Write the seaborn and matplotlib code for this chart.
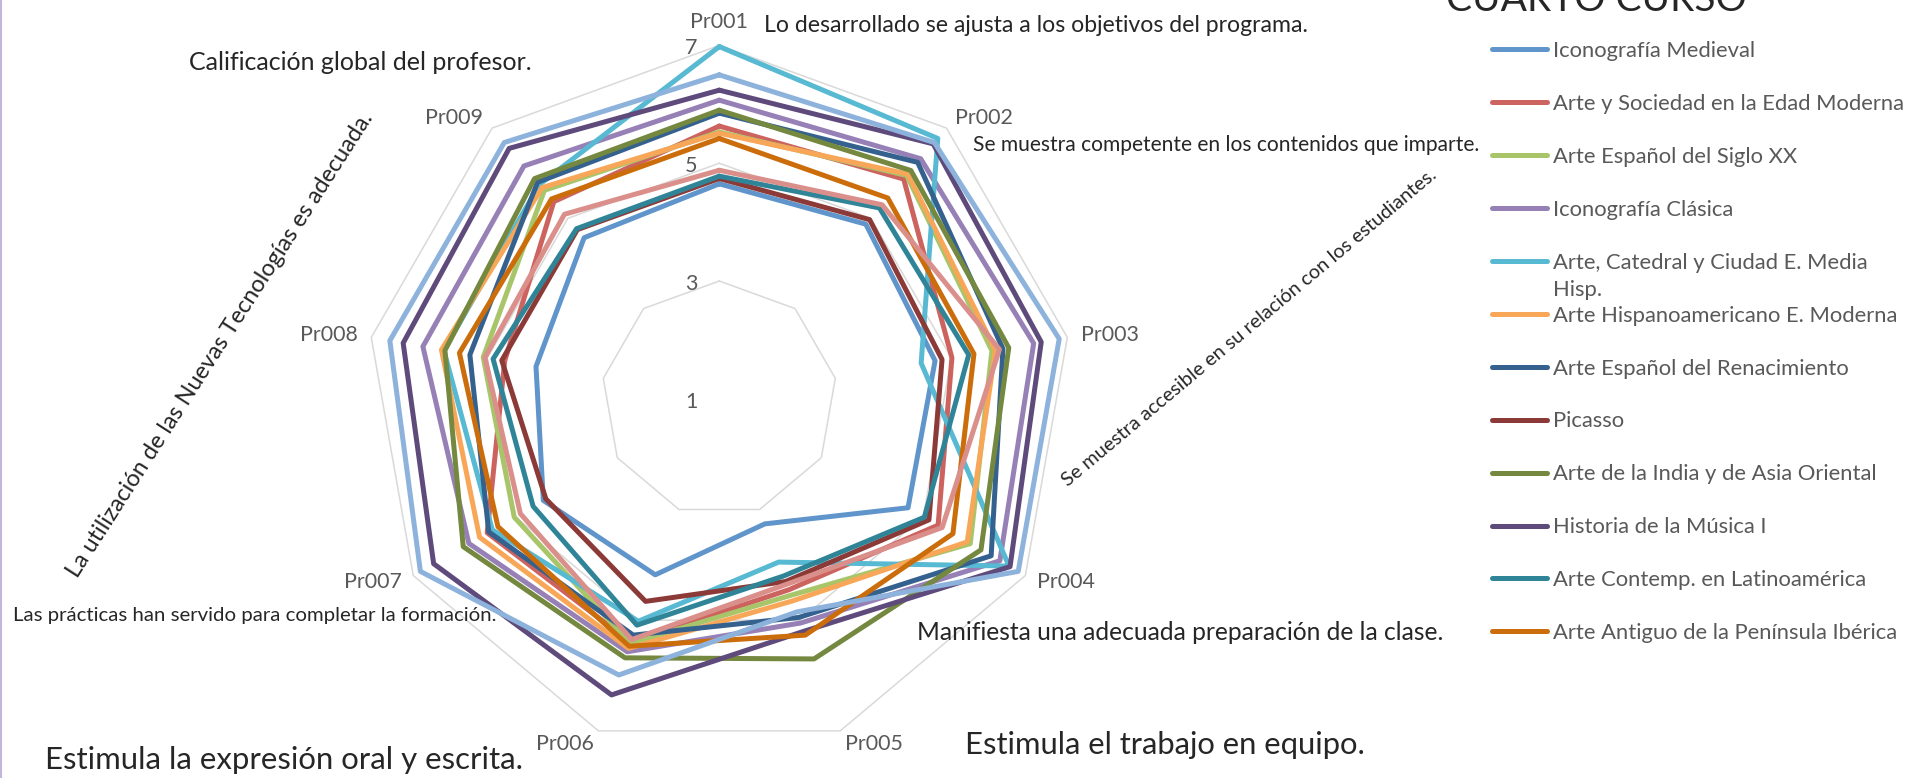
import numpy as np
import pandas as pd
import seaborn as sns
import matplotlib.pyplot as plt
from matplotlib import transforms
from matplotlib.lines import Line2D

# axes of the radar (one per survey question)
questions = ['Pr001', 'Pr002', 'Pr003', 'Pr004', 'Pr005', 'Pr006', 'Pr007', 'Pr008', 'Pr009']
ring_values = [3, 5, 7]
tick_labels = ['7', '5', '3', '1']
tick_values = [7, 5, 3, 1]

courses = [
    'Iconografía Medieval',
    'Arte y Sociedad en la Edad Moderna',
    'Arte Español del Siglo XX',
    'Iconografía Clásica',
    'Arte, Catedral y Ciudad E. Media Hisp.',
    'Arte Hispanoamericano E. Moderna',
    'Arte Español del Renacimiento',
    'Picasso',
    'Arte de la India y de Asia Oriental',
    'Historia de la Música I',
    'Arte Contemp. en Latinoamérica',
    'Arte Antiguo de la Península Ibérica',
]
# two more series are drawn in the chart but do not appear in its legend
extra_series = ['Serie 13', 'Serie 14']

iconografia_medieval = [4.65, 4.87, 4.72, 4.70, 3.26, 4.18, 4.45, 4.16, 4.57]
arte_sociedad = [5.63, 5.87, 5.01, 5.29, 4.45, 5.40, 5.55, 4.70, 5.37]
arte_siglo_xx = [5.53, 5.95, 5.70, 5.92, 4.55, 5.42, 5.02, 5.07, 5.62]
iconografia_clasica = [6.07, 6.32, 6.42, 6.50, 5.05, 5.57, 5.91, 6.11, 6.16]
catedral_ciudad = [6.98, 6.77, 4.48, 6.68, 3.95, 5.02, 5.45, 5.75, 5.75]
hispanoamericano = [5.51, 5.98, 5.76, 5.86, 4.65, 5.51, 5.70, 5.79, 5.68]
renacimiento = [5.85, 6.24, 5.89, 6.33, 4.95, 5.27, 5.52, 5.30, 5.80]
picasso = [4.74, 4.97, 4.84, 5.11, 4.30, 4.66, 4.40, 4.75, 4.75]
india_asia = [5.90, 6.06, 5.99, 6.13, 5.70, 5.68, 6.02, 5.73, 5.88]
historia_musica = [6.24, 6.65, 6.55, 6.70, 5.20, 6.35, 6.60, 6.45, 6.55]
contemp_latam = [4.78, 5.23, 5.30, 5.02, 4.20, 5.09, 4.65, 4.90, 4.77]
arte_antiguo = [5.42, 5.45, 5.39, 5.58, 5.27, 5.47, 5.34, 5.48, 5.43]
serie_13 = [6.50, 6.68, 6.86, 6.86, 4.85, 5.99, 6.86, 6.68, 6.68]
serie_14 = [4.88, 5.30, 5.83, 5.37, 4.35, 5.35, 4.90, 5.04, 5.09]

colors = ['#5F95CB', '#CD635E', '#A8C56A', '#9680B6', '#57B9D2', '#F8A658',
          '#35618F', '#8B3A38', '#74883F', '#5E4A7B', '#2F8597', '#CC6D0C',
          '#8DB3DD', '#DA8F8B']

statements = [
    'Lo desarrollado se ajusta a los objetivos del programa.',
    'Se muestra competente en los contenidos que imparte.',
    'Se muestra accesible en su relación con los estudiantes.',
    'Manifiesta una adecuada preparación de la clase.',
    'Estimula el trabajo en equipo.',
    'Estimula la expresión oral y escrita.',
    'Las prácticas han servido para completar la formación.',
    'La utilización de las Nuevas Tecnologías es adecuada.',
    'Calificación global del profesor.',
]
title = 'CUARTO CURSO'

series_names = courses + extra_series
series_values = [iconografia_medieval, arte_sociedad, arte_siglo_xx, iconografia_clasica,
                 catedral_ciudad, hispanoamericano, renacimiento, picasso, india_asia,
                 historia_musica, contemp_latam, arte_antiguo, serie_13, serie_14]

# long format, closing every polygon by repeating the first axis
n = len(questions)
angles = np.arange(n) * 2 * np.pi / n
closed = np.append(angles, 2 * np.pi)
rows = []
for name, vals in zip(series_names, series_values):
    for k, (t, v) in enumerate(zip(closed, vals + vals[:1])):
        rows.append({'course': name, 'theta': t, 'score': v, 'step': k})
df = pd.DataFrame(rows)

sns.set_style('white')
plt.rcParams['font.family'] = ['Lato', 'DejaVu Sans']

W, H = 1915, 778
fig = plt.figure(figsize=(W / 100, H / 100), dpi=100)
cx, cy, R = 719.3, 398.8, 353.4
ax = fig.add_axes([(cx - R) / W, (H - cy - R) / H, 2 * R / W, 2 * R / H], projection='polar')
ax.set_theta_zero_location('N')
ax.set_theta_direction(-1)
ax.set_ylim(1, 7)
ax.set_xticks([])
ax.set_yticks([])
ax.grid(False)
ax.spines['polar'].set_visible(False)

# polygon gridlines like the Excel radar
for r in ring_values:
    ax.plot(closed, [r] * len(closed), color='#D9D9D9', lw=1.1, zorder=0, clip_on=False)

sns.lineplot(data=df, x='theta', y='score', hue='course', hue_order=series_names,
             palette=colors, sort=False, estimator=None, units='course', lw=3.6,
             legend=False, ax=ax)
for line in ax.lines:
    line.set_clip_on(False)
ax.set_xlabel('')
ax.set_ylabel('')

# radial tick labels, left of the vertical axis
off = transforms.offset_copy(ax.transData, fig=fig, x=-28, y=-3, units='dots')
for lab, v in zip(tick_labels, tick_values):
    ax.text(0, v, lab, transform=off, ha='center', va='center', fontsize=15.5, color='#595959')

# question labels around the outside
for q, t in zip(questions, angles):
    s = np.sin(t)
    ha = 'left' if s > 0.1 else ('right' if s < -0.1 else 'center')
    va = 'bottom' if np.cos(t) > 0.99 else 'center'
    ax.text(t, 7.23, q, ha=ha, va=va, fontsize=15.4, color='#595959', clip_on=False)

# statements written around the chart
fig.text(764 / W, 1 - 26 / H, statements[0], ha='left', va='center', fontsize=16.6)
fig.text(973 / W, 1 - 145 / H, statements[1], ha='left', va='center', fontsize=15.1)
fig.text(1249 / W, 1 - 328 / H, statements[2], ha='center', va='center', fontsize=14.3,
         rotation=40, rotation_mode='anchor')
fig.text(917 / W, 1 - 633 / H, statements[3], ha='left', va='center', fontsize=17.7)
fig.text(965 / W, 1 - 745 / H, statements[4], ha='left', va='center', fontsize=22.3)
fig.text(45 / W, 1 - 760 / H, statements[5], ha='left', va='center', fontsize=22.4)
fig.text(13 / W, 1 - 615 / H, statements[6], ha='left', va='center', fontsize=14.7)
fig.text(220 / W, 1 - 345 / H, statements[7], ha='center', va='center', fontsize=16.9,
         rotation=57.3, rotation_mode='anchor')
fig.text(189 / W, 1 - 62 / H, statements[8], ha='left', va='center', fontsize=18.0)

fig.text(1596 / W, 1 - 11 / H, title, ha='center', va='baseline', fontsize=28)

# legend: only the twelve named courses
handles = [Line2D([], [], color=c, lw=3.6, solid_capstyle='round') for c in colors[:len(courses)]]
labels = [c.replace(' Hisp.', '') for c in courses]
leg = fig.legend(handles, labels, loc='upper left', bbox_to_anchor=(1492 / W, 1 - 41 / H),
                 frameon=False, borderpad=0, borderaxespad=0, handlelength=2.5,
                 handletextpad=0.3, labelspacing=1.5, fontsize=15.8, labelcolor='#595959')
fig.canvas.draw()
bb = leg.get_texts()[4].get_window_extent()
fig.text(bb.x0 / W, ((bb.y0 + bb.y1) / 2 - 27) / H, 'Hisp.', ha='left', va='center',
         fontsize=15.8, color='#595959')

fig.add_artist(Line2D([1.5 / W, 1.5 / W], [0, 1], color='#C3B6DD', lw=1.5, transform=fig.transFigure))

fig.savefig('out.png', dpi=100)
